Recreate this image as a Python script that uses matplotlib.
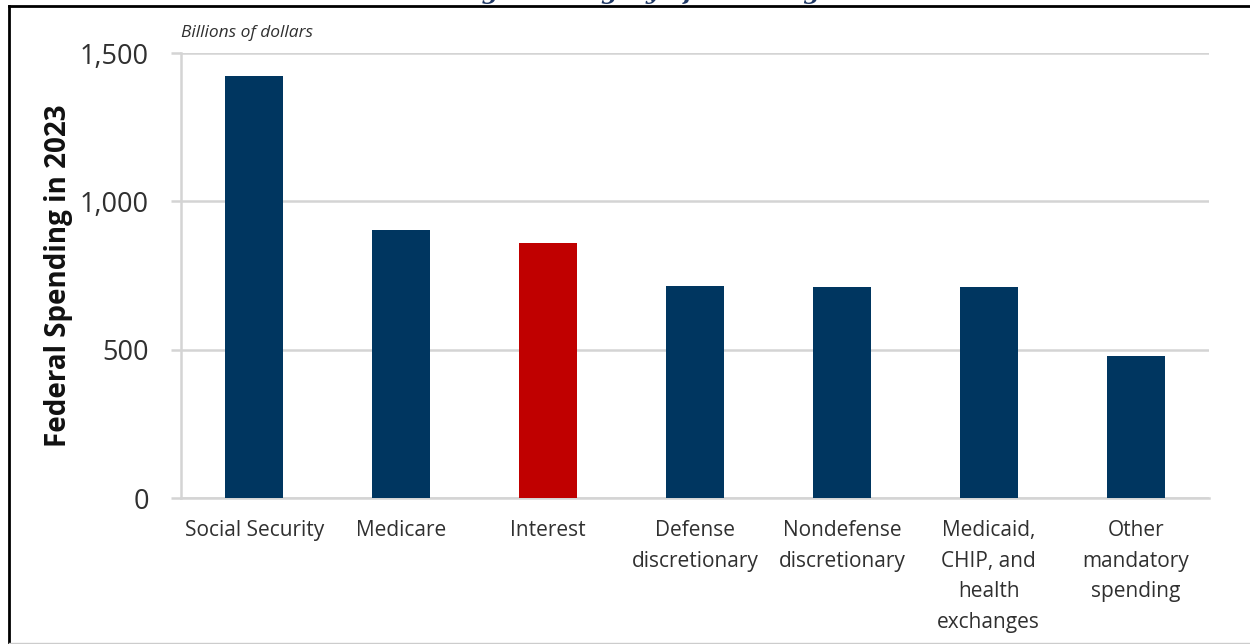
import matplotlib.pyplot as plt
from matplotlib.lines import Line2D

# Data (billions of dollars)
categories = ['Social Security', 'Medicare', 'Interest', 'Defense\ndiscretionary',
              'Nondefense\ndiscretionary', 'Medicaid,\nCHIP, and\nhealth\nexchanges',
              'Other\nmandatory\nspending']
spending = [1422, 903, 859, 714, 710, 711, 478]
highlight = 'Interest'
y_ticks = [0, 500, 1000, 1500]
y_tick_labels = ['0', '500', '1,000', '1,500']

navy = '#003660'
red = '#c00000'
grid_gray = '#d4d4d4'
text_gray = '#303030'

plt.rcParams['font.family'] = ['Open Sans', 'DejaVu Sans']

fig = plt.figure(figsize=(12.5, 6.44), dpi=100)
ax = fig.add_axes([0.1448, 0.2267, 0.8224, 0.691])

colors = [red if c == highlight else navy for c in categories]
ax.bar(range(len(categories)), spending, width=0.395, color=colors, zorder=3)

ax.set_xlim(-0.5, len(categories) - 0.5)
ax.set_ylim(0, 1500)
ax.set_yticks(y_ticks)
ax.set_yticklabels(y_tick_labels, fontsize=19.5, color=text_gray)
ax.set_xticks(range(len(categories)))
ax.set_xticklabels(categories, fontsize=15, color=text_gray, linespacing=1.6,
                   va='top')

ax.yaxis.grid(True, color=grid_gray, linewidth=1.8, zorder=0)
ax.tick_params(axis='y', direction='out', length=7, width=1.8, color=grid_gray, pad=16)
ax.tick_params(axis='x', length=0, pad=16)
for side in ['top', 'right']:
    ax.spines[side].set_visible(False)
for side in ['left', 'bottom']:
    ax.spines[side].set_color(grid_gray)
    ax.spines[side].set_linewidth(1.8)

ax.set_ylabel('Federal Spending in 2023', fontsize=20, fontweight='bold',
              color='#111111', labelpad=5)

fig.text(0.1448, 0.948, 'Billions of dollars', fontsize=12.5, style='italic',
         color=text_gray, va='center')

# clipped title at the very top, as in the reference crop
fig.text(0.027, 1.0016, 'Interest costs will be the third-largest category of the budget in 2023',
         fontsize=17, fontweight='bold', style='italic', color='#1f3864',
         family='DejaVu Serif', va='baseline')

# frame around the panel
fig.add_artist(Line2D([0.0072, 1.0], [0.9907, 0.9907], color='black', linewidth=2,
                      transform=fig.transFigure))
fig.add_artist(Line2D([0.0072, 0.0072], [0.0, 0.9907], color='black', linewidth=2,
                      transform=fig.transFigure))
fig.add_artist(Line2D([0.0072, 1.0], [0.0015, 0.0015], color='#cccccc', linewidth=1,
                      transform=fig.transFigure))

fig.savefig('out.png', dpi=100)
